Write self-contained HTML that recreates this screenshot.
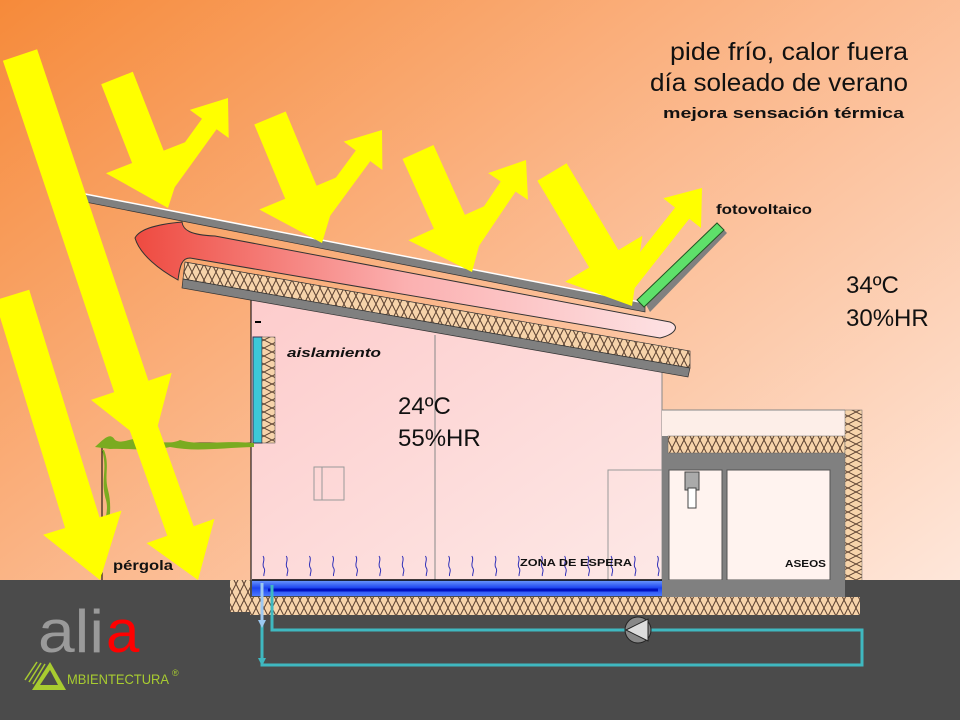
<!DOCTYPE html>
<html><head><meta charset="utf-8"><style>
html,body{margin:0;padding:0;width:960px;height:720px;overflow:hidden}
svg{display:block}
text{font-family:"Liberation Sans",sans-serif}
</style></head><body>
<svg id="s" width="960" height="720" viewBox="0 0 960 720" xmlns="http://www.w3.org/2000/svg">
<defs>
<linearGradient id="bg" x1="0" y1="0" x2="1" y2="1" gradientUnits="objectBoundingBox">
<stop offset="0" stop-color="#f68a3a"/><stop offset="0.45" stop-color="#fbb98e"/><stop offset="1" stop-color="#fff0ea"/></linearGradient>
<linearGradient id="air" x1="0" y1="0" x2="1" y2="0">
<stop offset="0" stop-color="#ee4a40"/><stop offset="0.5" stop-color="#fbb0b0"/><stop offset="1" stop-color="#fde2e4"/></linearGradient>
<linearGradient id="inside" x1="0" y1="0" x2="1" y2="1">
<stop offset="0" stop-color="#fdcccc"/><stop offset="1" stop-color="#fde8e6"/></linearGradient>
<linearGradient id="floor" x1="0" y1="0" x2="0" y2="1">
<stop offset="0" stop-color="#6f9cff"/><stop offset="0.5" stop-color="#1c44f0"/><stop offset="1" stop-color="#4a78ff"/></linearGradient>
<pattern id="ins" width="8" height="16" patternUnits="userSpaceOnUse">
<rect width="8" height="16" fill="#f6d3aa"/>
<path d="M0,0 L8,16 M8,0 L0,16" stroke="#5a4030" stroke-width="1" fill="none"/></pattern>
<pattern id="insv" width="16" height="8" patternUnits="userSpaceOnUse">
<rect width="16" height="8" fill="#f6d3aa"/>
<path d="M0,0 L16,8 M0,8 L16,0" stroke="#5a4030" stroke-width="1" fill="none"/></pattern>
</defs>
<rect width="960" height="720" fill="url(#bg)"/>

<!-- interior -->
<polygon points="251,298 662,371 662,580 251,580" fill="url(#inside)"/>
<line x1="251" y1="298" x2="251" y2="580" stroke="#000" stroke-width="1"/>
<line x1="435" y1="335" x2="435" y2="580" stroke="#888" stroke-width="1"/>
<line x1="662" y1="371" x2="662" y2="580" stroke="#888" stroke-width="1"/>
<line x1="255" y1="322" x2="261" y2="322" stroke="#000" stroke-width="2"/>
<rect x="314" y="467" width="30" height="33" fill="none" stroke="#999"/>
<line x1="322" y1="467" x2="322" y2="500" stroke="#999"/>
<rect x="608" y="470" width="54" height="110" fill="none" stroke="#999"/>

<!-- annex -->
<rect x="662" y="410" width="183" height="170" fill="#fdeee8"/>
<line x1="662" y1="410" x2="845" y2="410" stroke="#888"/>
<rect x="662" y="436" width="183" height="154" fill="#808080"/>
<rect x="668" y="436" width="177" height="17" fill="url(#ins)" stroke="#666" stroke-width="0.5"/>
<rect x="669" y="470" width="53" height="110" fill="#fff3ef" stroke="#555"/>
<rect x="727" y="470" width="103" height="110" fill="#fff3ef" stroke="#555"/>
<rect x="845" y="410" width="17" height="202" fill="url(#insv)" stroke="#666" stroke-width="0.5"/>
<rect x="685" y="472" width="14" height="18" fill="#aaa" stroke="#444"/>
<rect x="688" y="488" width="8" height="20" fill="#fff" stroke="#444"/>
<text x="785" y="567" font-size="10" font-weight="bold" fill="#111" textLength="41" lengthAdjust="spacingAndGlyphs">ASEOS</text>

<!-- ground -->
<rect x="0" y="580" width="960" height="140" fill="#4b4b4b"/>
<rect x="250" y="597" width="610" height="18" fill="url(#ins)"/>
<rect x="230" y="580" width="20" height="32" fill="url(#ins)"/>
<rect x="662" y="580" width="183" height="17" fill="#808080"/>
<rect x="252" y="580" width="410" height="16" fill="url(#floor)"/>
<line x1="268" y1="590" x2="658" y2="590" stroke="#0010c0" stroke-width="3"/>
<line x1="252" y1="580" x2="662" y2="580" stroke="#000" stroke-width="1.5"/>

<!-- pipes -->
<polyline points="272,585 272,630 625,630" fill="none" stroke="#3fb8c0" stroke-width="3"/>
<polyline points="651,630 862,630 862,665 262,665 262,610" fill="none" stroke="#3fb8c0" stroke-width="3"/>
<line x1="262" y1="583" x2="262" y2="625" stroke="#9cc8f0" stroke-width="3"/>
<polygon points="258,620 266,620 262,628" fill="#9cc8f0"/>
<polygon points="258,658 266,658 262,666" fill="#3fb8c0"/>
<circle cx="638" cy="630" r="13" fill="#888" stroke="#222"/>
<polygon points="626,630 648,619 648,641" fill="#ddd" stroke="#222"/>

<!-- heat squiggles -->
<g id="sq" stroke="#3030b8" stroke-width="1" fill="none"></g>
<text x="520" y="566" font-size="10" font-weight="bold" fill="#111" textLength="112" lengthAdjust="spacingAndGlyphs">ZONA  DE  ESPERA</text>

<!-- wall insulation -->
<rect x="253" y="337" width="9" height="106" fill="#3cc8d8" stroke="#335"/>
<rect x="262" y="337" width="13" height="106" fill="url(#insv)" stroke="#444" stroke-width="0.5"/>

<!-- pergola -->
<polyline points="102,580 102,443 251,443" fill="none" stroke="#000" stroke-width="1"/>
<path d="M95,447 C105,438 110,432 115,440 C125,446 135,432 145,444 C160,440 170,445 180,440 C200,446 220,440 254,443 L254,447 C220,448 195,452 170,447 C150,452 130,448 110,449 Z" fill="#7aab20"/>
<path d="M102,450 C108,470 100,480 106,500 C110,515 100,525 104,545 L106,545 C110,520 112,505 108,490 C104,475 110,465 104,450 Z" fill="#7aab20"/>

<!-- roofs -->
<polygon points="185,262 690,351 690,368 183,279" fill="url(#ins)" stroke="#333" stroke-width="0.7"/>
<polygon points="183,279 690,368 688,377 182,288" fill="#808080" stroke="#333" stroke-width="0.7"/>
<path d="M670,322 C680,326 676,334 660,338 L190,258 C182,258 180,265 178,280 C160,270 140,255 135,238 C140,228 160,224 182,222 C183,230 190,235 215,236 Z" fill="url(#air)" stroke="#333" stroke-width="1"/>
<polygon points="80,193 645,303 645,312 80,201" fill="#808080" stroke="#333" stroke-width="0.7"/>
<line x1="80" y1="193" x2="645" y2="303" stroke="#fff" stroke-width="1.5"/>
<polygon points="645,303 722,228 727,233 650,312" fill="#808080"/>
<polygon points="637,300 717,223 724,230 644,307" fill="#5ee06a" stroke="#225522" stroke-width="1"/>

<!-- arrows -->
<g id="ar" fill="#ffff00"></g>

<!-- texts -->
<text x="670" y="60" font-size="25" fill="#111" textLength="238" lengthAdjust="spacingAndGlyphs">pide frío, calor fuera</text>
<text x="650" y="91" font-size="25" fill="#111" textLength="258" lengthAdjust="spacingAndGlyphs">día soleado de verano</text>
<text x="663" y="118" font-size="15" font-weight="bold" fill="#111" textLength="241" lengthAdjust="spacingAndGlyphs">mejora sensación térmica</text>
<text x="716" y="214" font-size="14" font-weight="bold" fill="#111" textLength="96" lengthAdjust="spacingAndGlyphs">fotovoltaico</text>
<text x="846" y="293" font-size="24" fill="#111">34ºC</text>
<text x="846" y="326" font-size="24" fill="#111">30%HR</text>
<text x="398" y="414" font-size="24" fill="#111">24ºC</text>
<text x="398" y="446" font-size="24" fill="#111">55%HR</text>
<text x="287" y="357" font-size="13" font-weight="bold" font-style="italic" fill="#111" textLength="94" lengthAdjust="spacingAndGlyphs">aislamiento</text>
<text x="113" y="570" font-size="14" font-weight="bold" fill="#111" textLength="60" lengthAdjust="spacingAndGlyphs">pérgola</text>

<!-- logo -->
<text x="38" y="652" font-size="60" fill="#9a9a9a" textLength="66" lengthAdjust="spacingAndGlyphs">ali</text>
<text x="106" y="652" font-size="60" fill="#ff0000">a</text>
<polygon points="32,690 50,662 66,690" fill="#a8cc30"/>
<polygon points="40,685 50,670 58,685" fill="#4b4b4b"/>
<g stroke="#a8cc30" stroke-width="1.5"><line x1="25" y1="680" x2="37" y2="662"/><line x1="29" y1="682" x2="41" y2="663"/><line x1="33" y1="684" x2="45" y2="664"/></g>
<text x="67" y="684" font-size="14" fill="#a8cc30" textLength="102" lengthAdjust="spacingAndGlyphs">MBIENTECTURA</text>
<text x="172" y="676" font-size="9" fill="#a8cc30">®</text>
</svg>
<script>
(function(){
var NS="http://www.w3.org/2000/svg";
function arrow(x1,y1,x2,y2,w,hw,hl){
 var dx=x2-x1,dy=y2-y1,L=Math.sqrt(dx*dx+dy*dy),ux=dx/L,uy=dy/L,nx=-uy,ny=ux;
 var bx=x2-ux*hl,by=y2-uy*hl;
 var p=[[x1+nx*w/2,y1+ny*w/2],[bx+nx*w/2,by+ny*w/2],[bx+nx*hw/2,by+ny*hw/2],[x2,y2],[bx-nx*hw/2,by-ny*hw/2],[bx-nx*w/2,by-ny*w/2],[x1-nx*w/2,y1-ny*w/2]];
 var e=document.createElementNS(NS,"polygon");
 e.setAttribute("points",p.map(function(q){return q[0].toFixed(1)+","+q[1].toFixed(1)}).join(" "));
 document.getElementById("ar").appendChild(e);
}
arrow(20,55,152,448,36,85,65);
arrow(132,395,198,580,28,72,52);
arrow(12,295,100,580,36,82,60);
arrow(117,78,168,208,34,90,55); arrow(158,195,228,98,18,48,32);
arrow(270,118,322,243,34,90,55); arrow(310,228,382,130,18,48,32);
arrow(418,152,472,272,34,90,55); arrow(460,258,526,160,18,48,32);
arrow(552,172,632,306,34,90,55); arrow(620,292,702,188,18,48,32);
var g=document.getElementById("sq"),d="";
for(var x=263;x<665;x+=23.2){d+="M"+x+",556 c3,4 -2,8 1,12 c2,3 -1,6 0,8 ";}
var p=document.createElementNS(NS,"path");p.setAttribute("d",d);g.appendChild(p);
})();
</script>
</body></html>
